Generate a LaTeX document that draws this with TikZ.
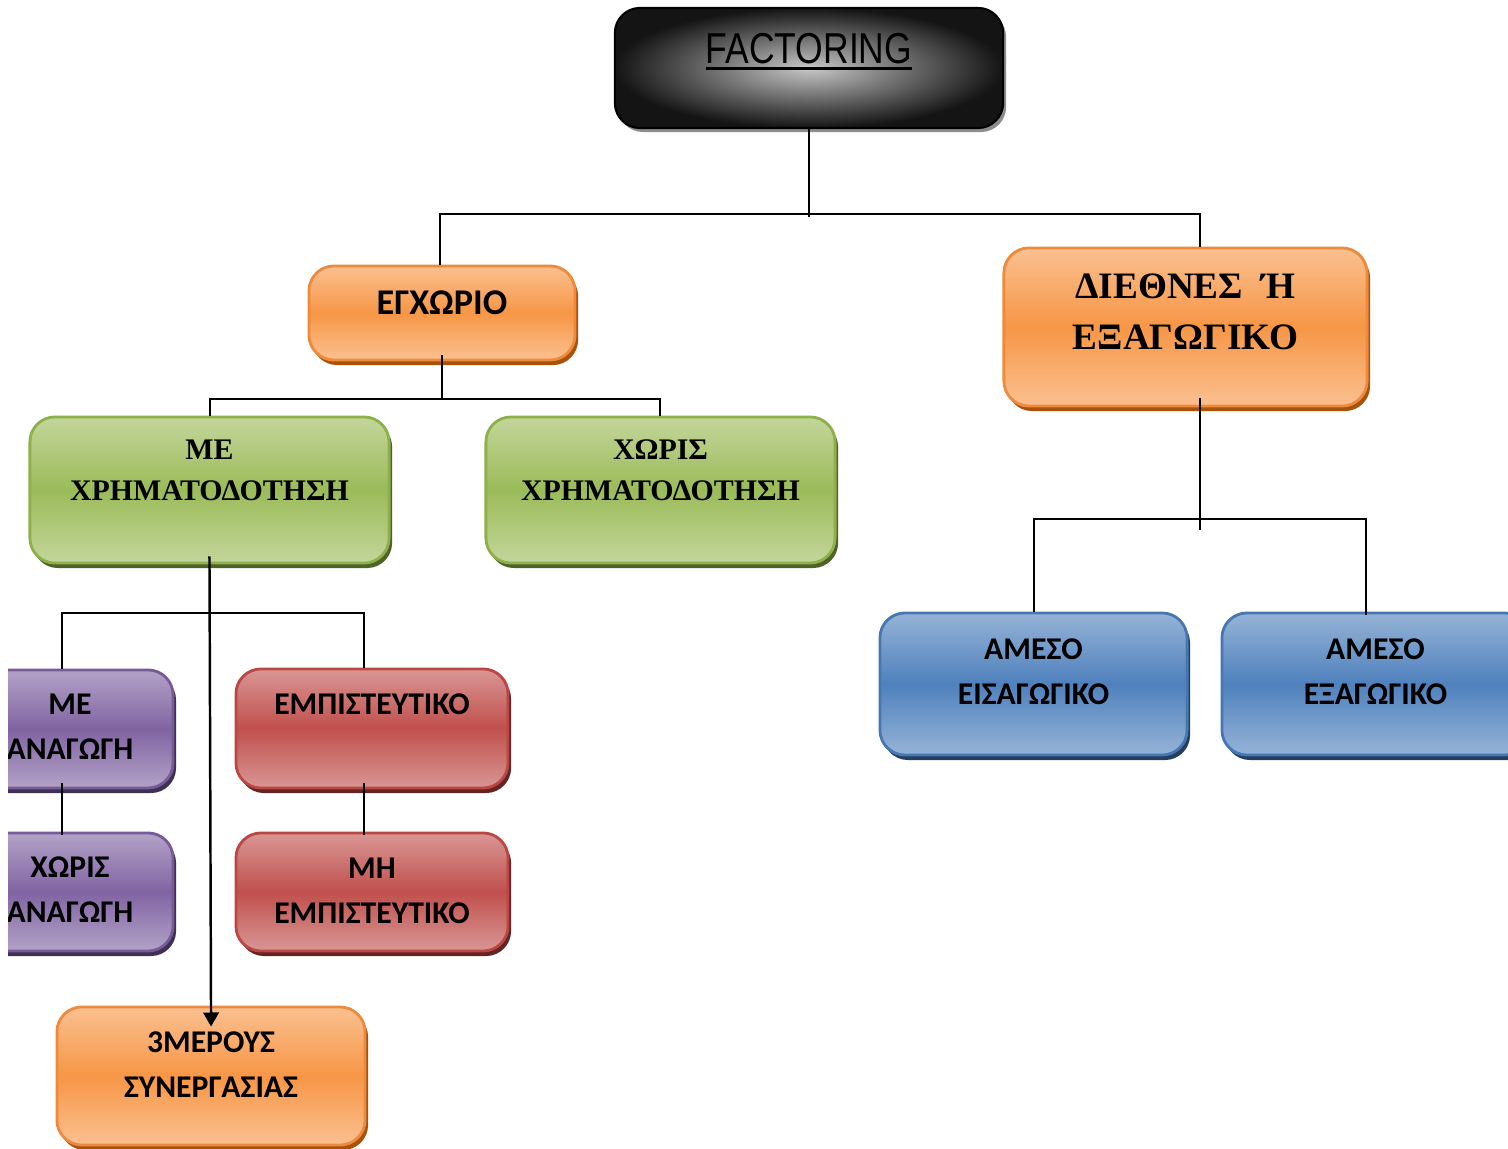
\documentclass[tikz,border=0pt]{standalone}
\usepackage{fontspec}
\usepackage{xcolor}
\usepackage{tikz}
\usetikzlibrary{arrows.meta,shadows,calc}

\newfontfamily\cardfont{Carlito}
\newfontfamily\serifcard{Liberation Serif}
\newfontfamily\titlefont[FakeStretch=0.82]{Liberation Sans}

\definecolor{orgDark}{HTML}{F79646}
\definecolor{orgLight}{HTML}{FAC090}
\definecolor{orgLine}{HTML}{EE8A3C}
\definecolor{orgShadow}{HTML}{A9520C}
\definecolor{grnDark}{HTML}{9BBB59}
\definecolor{grnLight}{HTML}{C3D69B}
\definecolor{grnLine}{HTML}{8EB04A}
\definecolor{grnShadow}{HTML}{4F6228}
\definecolor{purDark}{HTML}{8064A2}
\definecolor{purLight}{HTML}{B3A2C7}
\definecolor{purLine}{HTML}{765A99}
\definecolor{purShadow}{HTML}{3F3151}
\definecolor{redDark}{HTML}{C0504D}
\definecolor{redLight}{HTML}{D99694}
\definecolor{redLine}{HTML}{BA4744}
\definecolor{redShadow}{HTML}{632423}
\definecolor{bluDark}{HTML}{4F81BD}
\definecolor{bluLight}{HTML}{95B3D7}
\definecolor{bluLine}{HTML}{4677B3}
\definecolor{bluShadow}{HTML}{243F60}

% text of a card: width, height, first baseline from top, lines
\newcommand{\cardtext}[4]{\parbox[t][#2][t]{#1}{\centering\rule{0pt}{#3}#4}}
\newcommand{\thickul}[1]{\vtop{\hbox{#1}\kern0.8pt\hrule height 0.85pt}}

\begin{document}
\begin{tikzpicture}[
  x=0.01cm, y=-0.01cm,
  card/.style={rounded corners=0.25cm, inner sep=0pt, line width=0.8pt},
  cardOrange/.style={card, draw=orgLine, top color=orgLight, bottom color=orgLight,
                     middle color=orgDark,
                     drop shadow={shadow xshift=0.03cm, shadow yshift=-0.05cm,
                                  fill=orgShadow, opacity=1}},
  cardGreen/.style={card, draw=grnLine, top color=grnLight, bottom color=grnLight,
                    middle color=grnDark,
                    drop shadow={shadow xshift=0.03cm, shadow yshift=-0.05cm,
                                 fill=grnShadow, opacity=1}},
  cardPurple/.style={card, draw=purLine, top color=purLight, bottom color=purLight,
                     middle color=purDark,
                     drop shadow={shadow xshift=0.03cm, shadow yshift=-0.05cm,
                                  fill=purShadow, opacity=1}},
  cardRed/.style={card, draw=redLine, top color=redLight, bottom color=redLight,
                  middle color=redDark,
                  drop shadow={shadow xshift=0.03cm, shadow yshift=-0.05cm,
                               fill=redShadow, opacity=1}},
  cardBlue/.style={card, draw=bluLine, top color=bluLight, bottom color=bluLight,
                   middle color=bluDark,
                   drop shadow={shadow xshift=0.03cm, shadow yshift=-0.05cm,
                                fill=bluShadow, opacity=1}},
  title/.style={card, draw=black, line width=0.6pt, inner color=black!22,
                outer color=black!92,
                drop shadow={shadow xshift=0.03cm, shadow yshift=-0.04cm,
                             fill=black!45, opacity=1},
                font=\titlefont\fontsize{12.3pt}{14pt}\selectfont},
  calib/.style={font=\cardfont\bfseries\fontsize{9pt}{12.6pt}\selectfont},
  calibbig/.style={font=\cardfont\bfseries\fontsize{10.3pt}{12.6pt}\selectfont},
  timesbig/.style={font=\serifcard\bfseries\fontsize{10.6pt}{14.5pt}\selectfont},
  timessmall/.style={font=\serifcard\bfseries\fontsize{8.5pt}{11.4pt}\selectfont},
  link/.style={draw=black, line width=0.7pt},
  linkArrow/.style={link, -{Triangle[length=4pt, width=4.4pt]}},
]
\useasboundingbox (0,0) rectangle (1508,1149);
\clip (0,0) rectangle (1508,1149);

% ---- boxes ----
\node[title] (fact) at (809,68)
  {\cardtext{3.88cm}{1.20cm}{0.56cm}{\thickul{FACTORING}}};

\node[cardOrange, calibbig] (egx) at (442,313)
  {\cardtext{2.66cm}{0.94cm}{0.49cm}{ΕΓΧΩΡΙΟ}};
\node[cardOrange, timesbig] (dieth) at (1185.5,327)
  {\cardtext{3.63cm}{1.58cm}{0.51cm}{ΔΙΕΘΝΕΣ \ Ή\\ΕΞΑΓΩΓΙΚΟ}};

\node[cardGreen, timessmall] (mechr) at (209.5,490)
  {\cardtext{3.59cm}{1.46cm}{0.43cm}{ΜΕ\\ΧΡΗΜΑΤΟΔΟΤΗΣΗ}};
\node[cardGreen, timessmall] (xwchr) at (660.5,490)
  {\cardtext{3.49cm}{1.46cm}{0.43cm}{ΧΩΡΙΣ\\ΧΡΗΜΑΤΟΔΟΤΗΣΗ}};

\begin{scope}
  \clip (8,600) rectangle (300,1000);
  \node[cardPurple, calib] (mean) at (70,729)
    {\cardtext{2.06cm}{1.18cm}{0.45cm}{ΜΕ\\ΑΝΑΓΩΓΗ}};
  \node[cardPurple, calib] (xwan) at (70,892)
    {\cardtext{2.06cm}{1.18cm}{0.45cm}{ΧΩΡΙΣ\\ΑΝΑΓΩΓΗ}};
\end{scope}

\node[cardRed, calib] (emp) at (372,728.5)
  {\cardtext{2.72cm}{1.19cm}{0.46cm}{ΕΜΠΙΣΤΕΥΤΙΚΟ}};
\node[cardRed, calib] (mhemp) at (372,892)
  {\cardtext{2.72cm}{1.18cm}{0.46cm}{ΜΗ\\ΕΜΠΙΣΤΕΥΤΙΚΟ}};

\node[cardBlue, calib] (ameis) at (1033.5,684)
  {\cardtext{3.07cm}{1.42cm}{0.47cm}{ΑΜΕΣΟ\\ΕΙΣΑΓΩΓΙΚΟ}};
\node[cardBlue, calib] (amexag) at (1375.5,684)
  {\cardtext{3.07cm}{1.42cm}{0.47cm}{ΑΜΕΣΟ\\ΕΞΑΓΩΓΙΚΟ}};

\node[cardOrange, calib] (third) at (211,1076)
  {\cardtext{3.08cm}{1.38cm}{0.46cm}{3ΜΕΡΟΥΣ\\ΣΥΝΕΡΓΑΣΙΑΣ}};

% ---- connectors ----
\coordinate (b1l) at (440,214);
\coordinate (b1r) at (1200,214);
\draw[link, shorten >=-0.03cm] (fact.south) -- (fact.south |- b1l);
\draw[link] (egx.north -| b1l) -- (b1l) -- (b1r) -- (dieth.north -| b1r);

\coordinate (b2l) at (210,399);
\coordinate (b2r) at (660,399);
\draw[link, shorten <=-0.06cm, shorten >=-0.01cm] (egx.south) -- (egx.south |- b2l);
\draw[link] (mechr.north -| b2l) -- (b2l) -- (b2r) -- (xwchr.north -| b2r);

\coordinate (b3l) at (62,613);
\coordinate (b3r) at (364,613);
\draw[link] (mean.north -| b3l) -- (b3l) -- (b3r) -- (emp.north -| b3r);
\draw[linkArrow, shorten <=-0.08cm, shorten >=-0.21cm] (mechr.south) -- (third.north);
\draw[link, shorten <=-0.06cm, shorten >=-0.03cm] (mean.south -| b3l) -- (xwan.north -| b3l);
\draw[link, shorten <=-0.06cm, shorten >=-0.03cm] (emp.south -| b3r) -- (mhemp.north -| b3r);

\coordinate (b4l) at (1034,519);
\coordinate (b4r) at (1366,519);
\coordinate (b4m) at (1200,530);
\draw[link, shorten <=-0.09cm] (dieth.south -| b4m) -- (b4m);
\draw[link, shorten >=-0.03cm] (ameis.north -| b4l) -- (b4l) -- (b4r) -- (amexag.north -| b4r);

\end{tikzpicture}
\end{document}
